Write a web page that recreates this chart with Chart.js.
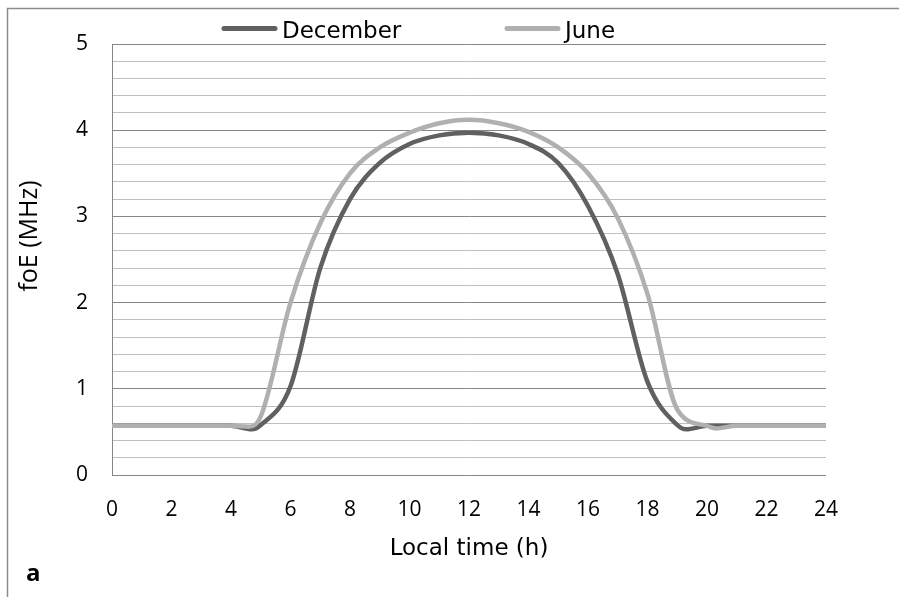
<!DOCTYPE html>
<html>
<head>
<meta charset="utf-8">
<title>foE - local time</title>
<script src="https://cdn.jsdelivr.net/npm/chart.js@4.4.0/dist/chart.umd.min.js"></script>
<style>
  html, body { margin: 0; padding: 0; background: #fff; }
</style>
</head>
<body>
<canvas id="foe" width="899" height="597"></canvas>
<script>
// local time (h) and foE (MHz), hourly plus the small night-side dips
const decHours = [0, 1, 2, 3, 4, 4.7, 5, 6, 7, 8, 9, 10, 11, 12,
  13, 14, 15, 16, 17, 18, 19, 19.3, 20, 21, 22, 23, 24];
const december = [0.57, 0.57, 0.57, 0.57, 0.57, 0.53, 0.58, 1.03, 2.40, 3.20, 3.62, 3.84, 3.94, 3.97,
  3.94, 3.84, 3.62, 3.12, 2.33, 1.08, 0.58, 0.53, 0.57, 0.57, 0.57, 0.57, 0.57];

const junHours = [0, 1, 2, 3, 4, 4.6, 5, 6, 7, 8, 9, 10, 11, 12,
  13, 14, 15, 16, 17, 18, 19, 20, 20.3, 21, 22, 23, 24];
const june = [0.57, 0.57, 0.57, 0.57, 0.57, 0.56, 0.68, 2.00, 2.92, 3.50, 3.80, 3.97, 4.08, 4.12,
  4.08, 3.98, 3.80, 3.50, 2.98, 2.10, 0.76, 0.57, 0.54, 0.57, 0.57, 0.57, 0.57];

const seriesNames = ['December', 'June'];
const seriesColors = ['#606060', '#b0b0b0'];
const yTitle = 'foE (MHz)';

const toPoints = (xs, ys) => xs.map((h, i) => ({ x: h, y: ys[i] }));
const isWhole = v => Math.abs(v - Math.round(v)) < 1e-6;

// outer frame, legend, y title and panel letter
const decorations = {
  id: 'decorations',
  beforeDraw(chart) {
    const ctx = chart.ctx;
    ctx.save();
    ctx.fillStyle = '#fff';
    ctx.fillRect(0, 0, chart.width, chart.height);
    ctx.strokeStyle = '#8c8c8c';
    ctx.lineWidth = 1.5;
    ctx.beginPath();
    ctx.moveTo(7.5, chart.height);
    ctx.lineTo(7.5, 8.5);
    ctx.lineTo(chart.width, 8.5);
    ctx.stroke();
    ctx.restore();
  },
  afterDraw(chart) {
    const ctx = chart.ctx;
    const items = [{ x1: 224, x2: 275, tx: 282 }, { x1: 507, x2: 558, tx: 565 }];
    ctx.save();
    chart.data.datasets.forEach((ds, i) => {
      const it = items[i];
      ctx.strokeStyle = ds.borderColor;
      ctx.lineWidth = 5;
      ctx.lineCap = 'round';
      ctx.beginPath();
      ctx.moveTo(it.x1, 28.5);
      ctx.lineTo(it.x2, 28.5);
      ctx.stroke();
      ctx.fillStyle = '#000';
      ctx.font = '23px "DejaVu Sans"';
      ctx.textBaseline = 'alphabetic';
      ctx.fillText(ds.label, it.tx, 38);
    });

    ctx.save();
    ctx.translate(30, 236);
    ctx.rotate(-Math.PI / 2);
    ctx.font = '25px "Open Sans"';
    ctx.textAlign = 'center';
    ctx.textBaseline = 'middle';
    ctx.fillText(yTitle, 0, 0);
    ctx.restore();

    ctx.font = 'bold 24px "Open Sans"';
    ctx.textAlign = 'left';
    ctx.fillText('a', 26, 581);
    ctx.restore();
  }
};

new Chart(document.getElementById('foe'), {
  type: 'line',
  data: {
    datasets: [
      { xs: decHours, ys: december },
      { xs: junHours, ys: june }
    ].map((s, i) => ({
      label: seriesNames[i],
      data: toPoints(s.xs, s.ys),
      borderColor: seriesColors[i],
      backgroundColor: seriesColors[i],
      borderWidth: 4.5,
      borderCapStyle: 'round',
      borderJoinStyle: 'round',
      pointRadius: 0,
      cubicInterpolationMode: 'monotone',
      fill: false,
      order: 1 - i
    }))
  },
  options: {
    responsive: false,
    devicePixelRatio: 1,
    animation: false,
    layout: { padding: { left: 0, right: 73, top: 44, bottom: 0 } },
    plugins: {
      legend: { display: false },
      tooltip: { enabled: false }
    },
    scales: {
      x: {
        type: 'linear',
        min: 0,
        max: 24,
        afterFit(scale) { scale.height = 122; },
        ticks: {
          stepSize: 2,
          maxTicksLimit: 20,
          autoSkip: false,
          maxRotation: 0,
          padding: 22,
          color: '#000',
          font: { family: 'Open Sans', size: 21 }
        },
        grid: { display: false, drawTicks: false },
        border: { display: false },
        title: {
          display: true,
          text: 'Local time (h)',
          color: '#000',
          font: { family: 'DejaVu Sans', size: 23 },
          padding: { top: 0, bottom: 34 }
        }
      },
      y: {
        min: 0,
        max: 5,
        afterFit(scale) { scale.width = 112; },
        ticks: {
          stepSize: 0.2,
          maxTicksLimit: 30,
          autoSkip: false,
          padding: 24,
          color: '#000',
          font: { family: 'Open Sans', size: 21 },
          callback: v => isWhole(v) ? String(Math.round(v)) : ''
        },
        grid: {
          drawTicks: false,
          lineWidth: 1,
          color: c => isWhole(c.tick.value) ? '#868686' : '#bfbfbf'
        },
        border: { display: true, color: '#868686', width: 1 }
      }
    }
  },
  plugins: [decorations]
});
</script>
</body>
</html>
